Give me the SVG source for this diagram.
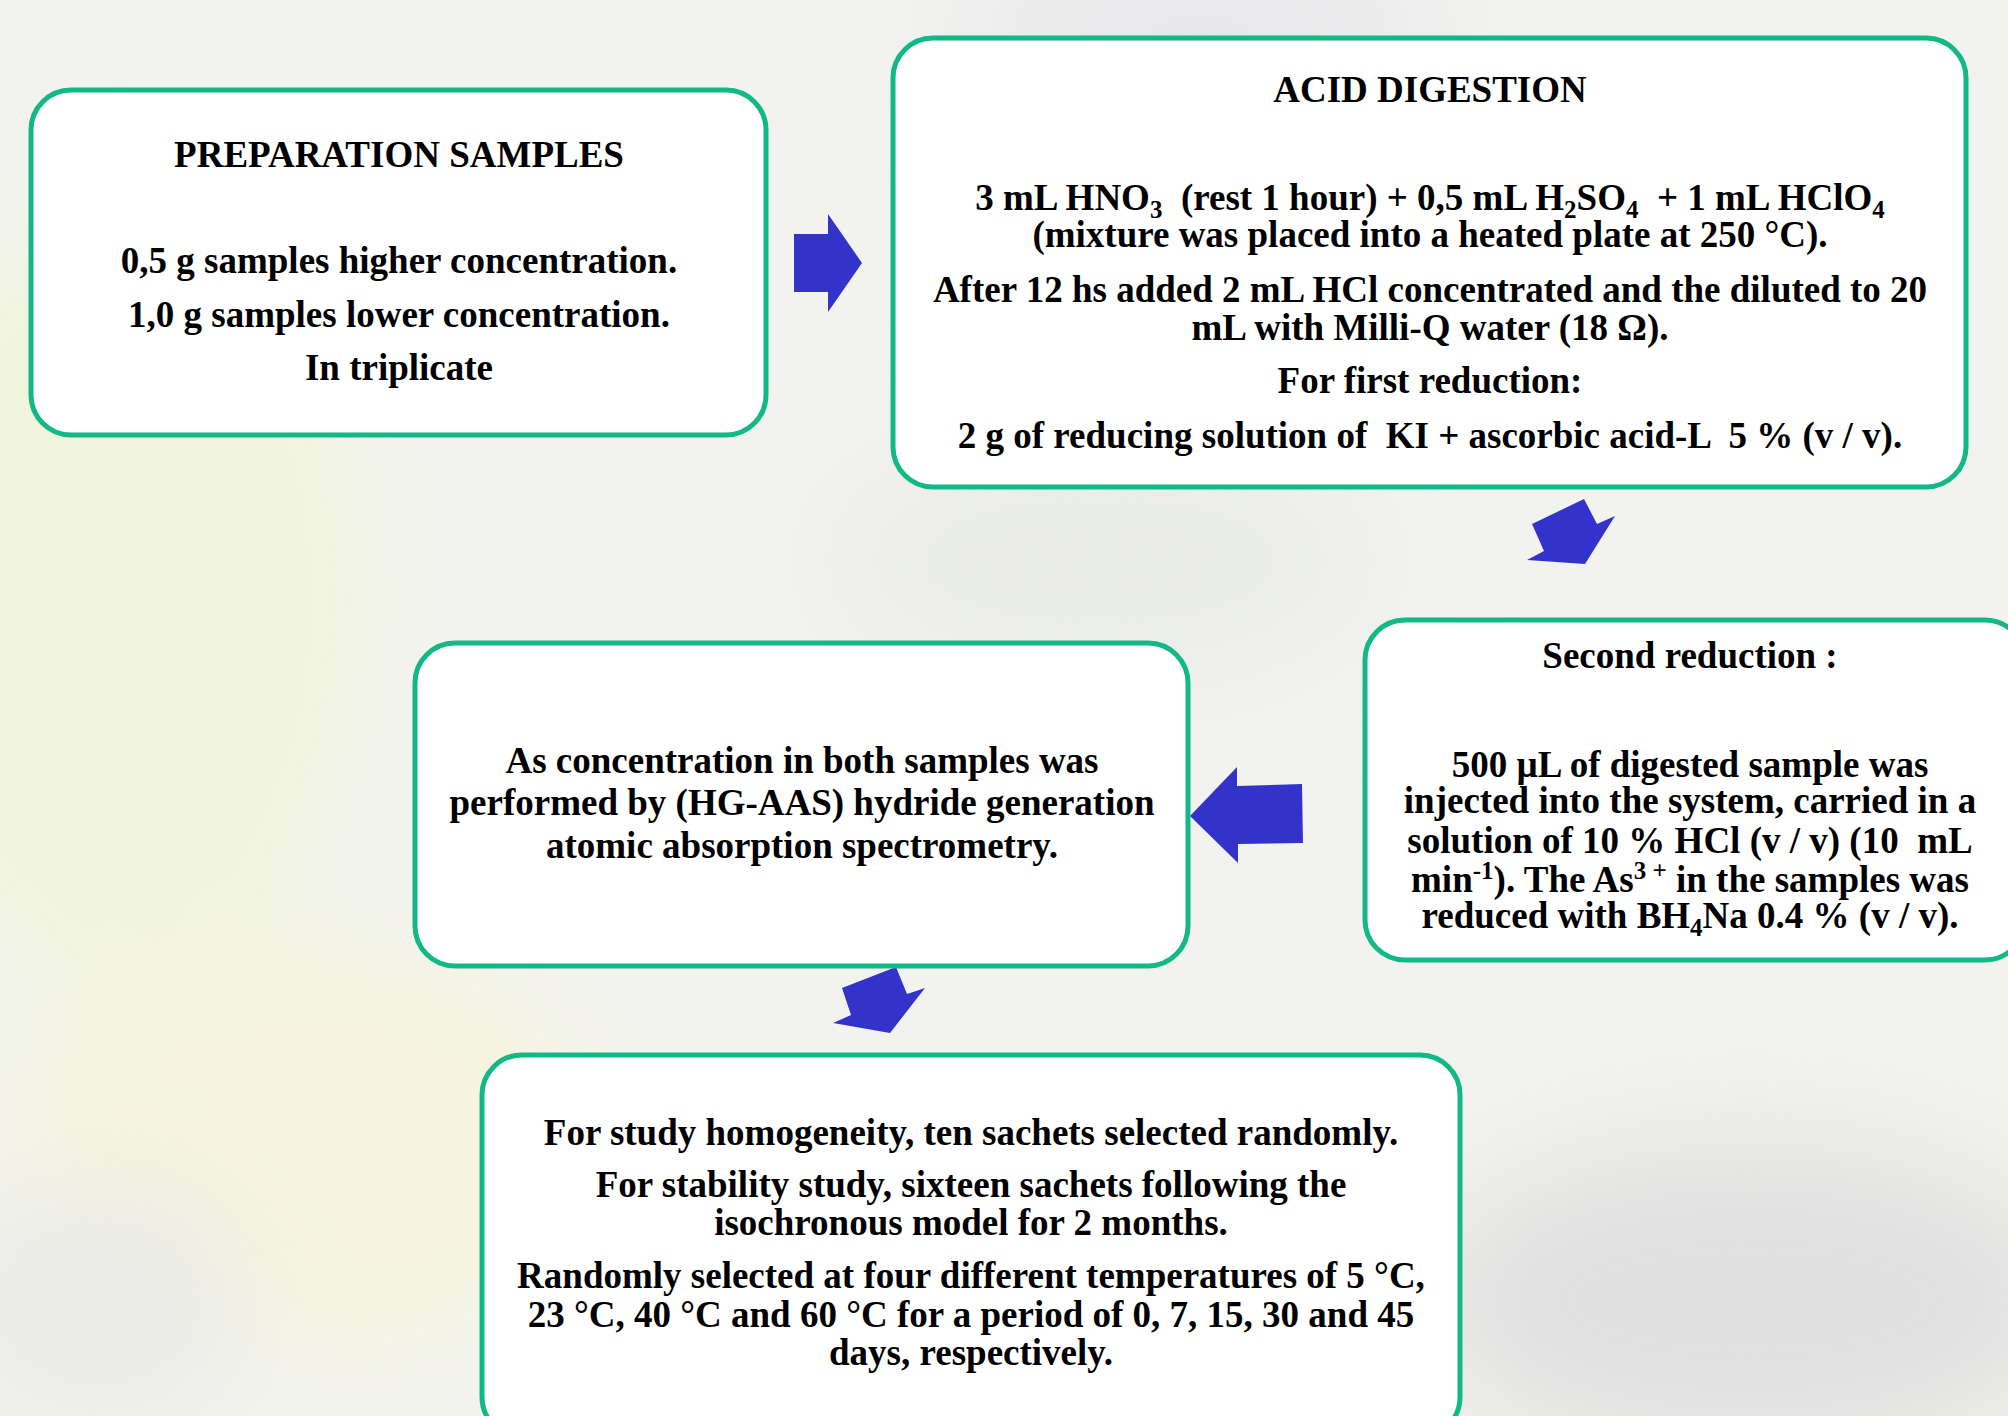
<svg xmlns="http://www.w3.org/2000/svg" width="2008" height="1416" viewBox="0 0 2008 1416">
  <defs>
    <filter id="blur" x="-50%" y="-50%" width="200%" height="200%">
      <feGaussianBlur stdDeviation="60"/>
    </filter>
    <style>
      .box { fill: #ffffff; stroke: #12b886; stroke-width: 5; }
      .t { font-family: "Liberation Serif", "Times New Roman", serif; font-weight: bold; font-size: 37px; fill: #000000; text-anchor: middle; }
      .arrow { fill: #3333cc; stroke: none; }
    </style>
  </defs>

  <g id="background">
    <rect x="0" y="0" width="2008" height="1416" fill="#f2f3ef"/>
    <g filter="url(#blur)">
      <ellipse cx="120" cy="600" rx="240" ry="380" fill="#f0f4dc"/>
      <ellipse cx="300" cy="1150" rx="300" ry="200" fill="#f6f4de"/>
      <ellipse cx="1750" cy="1300" rx="330" ry="160" fill="#e0e0e0"/>
      <ellipse cx="1200" cy="30" rx="250" ry="60" fill="#e4e3e9"/>
      <ellipse cx="1100" cy="560" rx="280" ry="120" fill="#eaece7"/>
      <ellipse cx="100" cy="1300" rx="150" ry="120" fill="#e9eae7"/>
    </g>
  </g>

  <g id="connectors">
    <polygon class="arrow" points="794,234 828,234 828,214 862,263 828,312 828,292 794,292"/>
    <polygon class="arrow" points="1532,524 1584,499 1597,524 1615,516 1585,564 1527,560 1544,551"/>
    <polygon class="arrow" points="1190,816 1237,767 1237,786 1302,784 1303,843 1238,844 1238,863"/>
    <polygon class="arrow" points="842,988 896,967 907,994 925,988 890,1033 833,1023 851,1015"/>
  </g>

  <g id="node-preparation">
    <rect class="box" x="31" y="90" width="735" height="345" rx="40" ry="40"/>
    <text class="t" x="399" y="167">PREPARATION SAMPLES</text>
    <text class="t" x="399" y="273">0,5 g samples higher concentration.</text>
    <text class="t" x="399" y="327">1,0 g samples lower concentration.</text>
    <text class="t" x="399" y="380">In triplicate</text>
  </g>

  <g id="node-acid-digestion">
    <rect class="box" x="893" y="38" width="1073" height="449" rx="40" ry="40"/>
    <text class="t" x="1430" y="102">ACID DIGESTION</text>
    <text class="t" xml:space="preserve"><tspan x="1430" y="210">3 mL HNO</tspan><tspan font-size="25" dy="8">3</tspan><tspan dy="-8">  (rest 1 hour) + 0,5 mL H</tspan><tspan font-size="25" dy="8">2</tspan><tspan dy="-8">SO</tspan><tspan font-size="25" dy="8">4</tspan><tspan dy="-8">  + 1 mL HClO</tspan><tspan font-size="25" dy="8">4</tspan><tspan x="1430" y="247">(mixture was placed into a heated plate at 250 °C).</tspan></text>
    <text class="t"><tspan x="1430" y="302">After 12 hs added 2 mL HCl concentrated and the diluted to 20</tspan><tspan x="1430" y="340">mL with Milli-Q water (18 Ω).</tspan></text>
    <text class="t" x="1430" y="393">For first reduction:</text>
    <text class="t" x="1430" y="448" xml:space="preserve">2 g of reducing solution of  KI + ascorbic acid-L  5 % (v / v).</text>
  </g>

  <g id="node-second-reduction">
    <rect class="box" x="1365" y="620" width="660" height="340" rx="40" ry="40"/>
    <text class="t" x="1690" y="668">Second reduction :</text>
    <text class="t" xml:space="preserve"><tspan x="1690" y="777">500 µL of digested sample was</tspan><tspan x="1690" y="813">injected into the system, carried in a</tspan><tspan x="1690" y="853">solution of 10 % HCl (v / v) (10  mL</tspan><tspan x="1690" y="892">min</tspan><tspan font-size="25" dy="-13">-1</tspan><tspan dy="13">). The As</tspan><tspan font-size="25" dy="-13">3 +</tspan><tspan dy="13"> in the samples was</tspan><tspan x="1690" y="928">reduced with BH</tspan><tspan font-size="25" dy="8">4</tspan><tspan dy="-8">Na 0.4 % (v / v).</tspan></text>
  </g>

  <g id="node-hg-aas">
    <rect class="box" x="415" y="643" width="773" height="323" rx="40" ry="40"/>
    <text class="t"><tspan x="802" y="773">As concentration in both samples was</tspan><tspan x="802" y="815">performed by (HG-AAS) hydride generation</tspan><tspan x="802" y="858">atomic absorption spectrometry.</tspan></text>
  </g>

  <g id="node-homogeneity-stability">
    <rect class="box" x="482" y="1055" width="978" height="382" rx="40" ry="40"/>
    <text class="t" x="971" y="1145">For study homogeneity, ten sachets selected randomly.</text>
    <text class="t"><tspan x="971" y="1197">For stability study, sixteen sachets following the</tspan><tspan x="971" y="1235">isochronous model for 2 months.</tspan></text>
    <text class="t"><tspan x="971" y="1288">Randomly selected at four different temperatures of 5 °C,</tspan><tspan x="971" y="1327">23 °C, 40 °C and 60 °C for a period of 0, 7, 15, 30 and 45</tspan><tspan x="971" y="1365">days, respectively.</tspan></text>
  </g>
</svg>
